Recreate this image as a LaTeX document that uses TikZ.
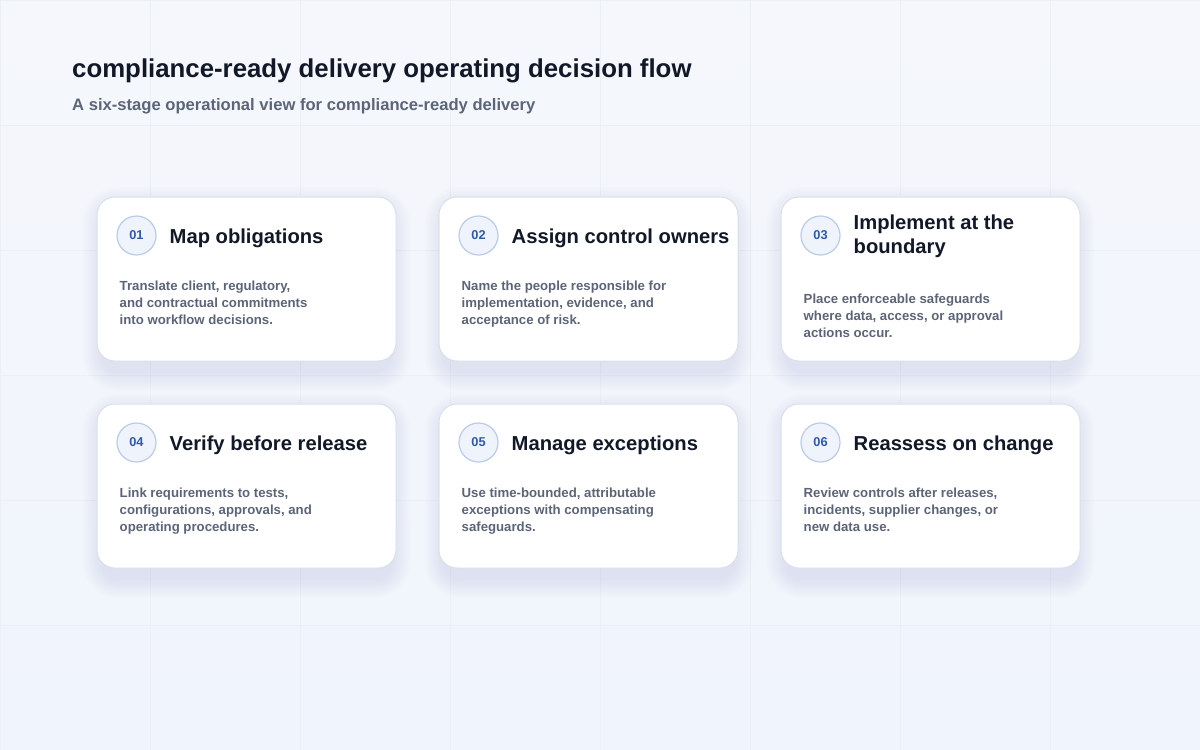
\documentclass[tikz,border=0pt]{standalone}
\usepackage{fontspec}
\setmainfont{Liberation Sans}
\usepackage{tikz}
\definecolor{page_bg}{RGB}{245,247,252}
\definecolor{page_bot}{RGB}{240,244,252}
\definecolor{grid_gray}{RGB}{235,239,246}
\definecolor{card_line}{RGB}{218,224,235}
\definecolor{card_shade}{RGB}{110,125,165}
\definecolor{badge_fill}{RGB}{238,243,252}
\definecolor{badge_line}{RGB}{188,203,230}
\definecolor{badge_text}{RGB}{46,90,168}
\definecolor{head_text}{RGB}{17,24,39}
\definecolor{body_text}{RGB}{92,101,119}

\begin{document}
\begin{tikzpicture}[x=1pt,y=-1pt]
    \tikzstyle{card}=[draw=card_line, line width=1pt, fill=white, rounded corners=18pt, minimum width=299pt, minimum height=164pt, inner sep=0pt]
    \tikzstyle{badge}=[draw=badge_line, line width=1.2pt, circle, minimum size=39pt, inner sep=0pt, fill=badge_fill, text=badge_text, font=\fontsize{12.8}{14}\selectfont\bfseries]
    \tikzstyle{head}=[anchor=north west, inner sep=0pt, align=left, text=head_text, font=\fontsize{20.2}{24}\selectfont\bfseries]
    \tikzstyle{body}=[anchor=north west, inner sep=0pt, align=left, text=body_text, font=\fontsize{13.2}{17}\selectfont\bfseries]

    \useasboundingbox (0,0) rectangle (1200,750);
    \shade[top color=page_bg, bottom color=page_bot] (0,0) rectangle (1200,750);
    \draw[grid_gray, line width=1pt, xstep=150pt, ystep=125pt] (0,0) grid (1200,750);

    % soft shadows under the cards
    \foreach \cx/\cy in {246.5/279, 588.5/279, 930.5/279, 246.5/486, 588.5/486, 930.5/486}
      \foreach \s in {0,2,...,18}
        \fill[card_shade, opacity=0.011, rounded corners=18pt+\s pt] (\cx-146-\s,\cy-74-\s) rectangle (\cx+146+\s,\cy+94+\s);

    \node[anchor=base west, inner sep=0pt, text=head_text, font=\fontsize{25.8}{30}\selectfont\bfseries] (title) at (72,77) {compliance-ready delivery operating decision flow};
    \node[anchor=base west, inner sep=0pt, text=body_text, font=\fontsize{16.6}{20}\selectfont\bfseries] (subtitle) at (72,110) {A six-stage operational view for compliance-ready delivery};

    \node[card] (c1) at (246.5,279) {};
    \node[badge] (b1) at ([shift={(40,39)}]c1.north west) {01};
    \node[head] (h1) at ([shift={(73,31.7)}]c1.north west) {Map obligations};
    \node[body] (d1) at ([shift={(23,84)}]c1.north west) {Translate client, regulatory,\\and contractual commitments\\into workflow decisions.};

    \node[card] (c2) at (588.5,279) {};
    \node[badge] (b2) at ([shift={(40,39)}]c2.north west) {02};
    \node[head] (h2) at ([shift={(73,31.7)}]c2.north west) {Assign control owners};
    \node[body] (d2) at ([shift={(23,84)}]c2.north west) {Name the people responsible for\\implementation, evidence, and\\acceptance of risk.};

    \node[card] (c3) at (930.5,279) {};
    \node[badge] (b3) at ([shift={(40,39)}]c3.north west) {03};
    \node[head] (h3) at ([shift={(73,17.7)}]c3.north west) {Implement at the\\boundary};
    \node[body] (d3) at ([shift={(23,97.5)}]c3.north west) {Place enforceable safeguards\\where data, access, or approval\\actions occur.};

    \node[card] (c4) at (246.5,486) {};
    \node[badge] (b4) at ([shift={(40,39)}]c4.north west) {04};
    \node[head] (h4) at ([shift={(73,31.7)}]c4.north west) {Verify before release};
    \node[body] (d4) at ([shift={(23,84)}]c4.north west) {Link requirements to tests,\\configurations, approvals, and\\operating procedures.};

    \node[card] (c5) at (588.5,486) {};
    \node[badge] (b5) at ([shift={(40,39)}]c5.north west) {05};
    \node[head] (h5) at ([shift={(73,31.7)}]c5.north west) {Manage exceptions};
    \node[body] (d5) at ([shift={(23,84)}]c5.north west) {Use time-bounded, attributable\\exceptions with compensating\\safeguards.};

    \node[card] (c6) at (930.5,486) {};
    \node[badge] (b6) at ([shift={(40,39)}]c6.north west) {06};
    \node[head] (h6) at ([shift={(73,31.7)}]c6.north west) {Reassess on change};
    \node[body] (d6) at ([shift={(23,84)}]c6.north west) {Review controls after releases,\\incidents, supplier changes, or\\new data use.};
\end{tikzpicture}
\end{document}
